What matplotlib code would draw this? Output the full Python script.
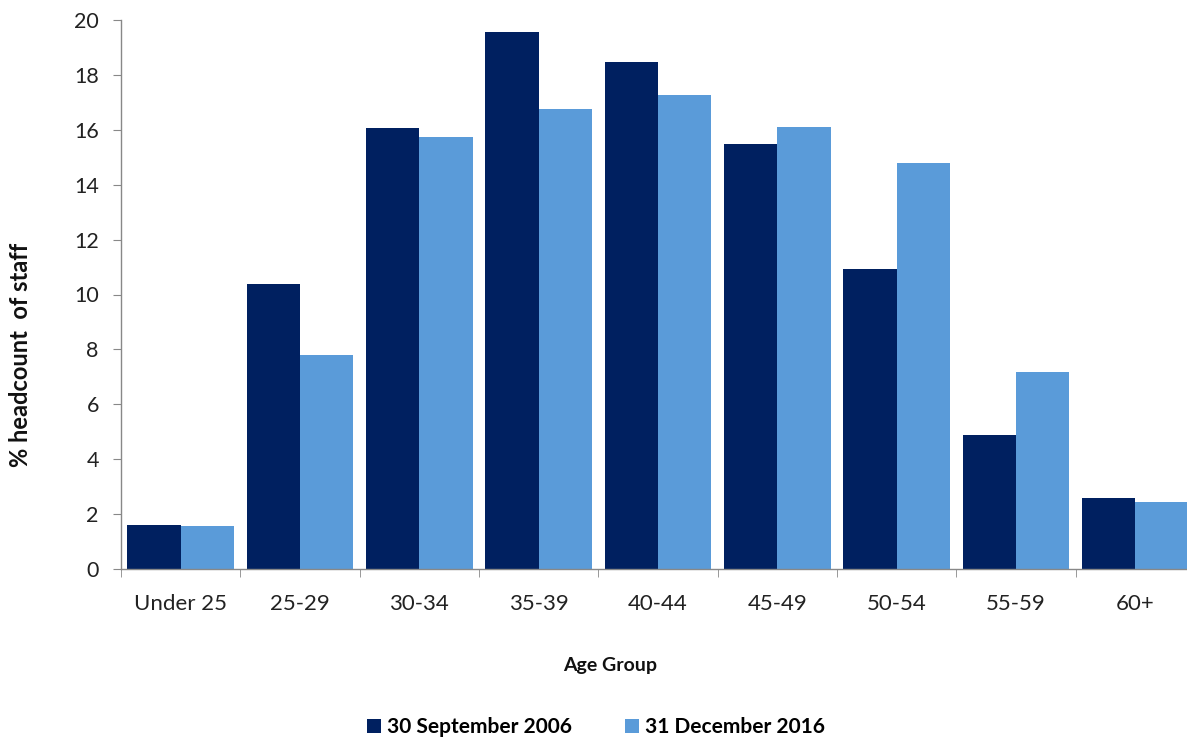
import matplotlib.pyplot as plt
import numpy as np

# Age profile of staff, % of headcount
age_groups = ["Under 25", "25-29", "30-34", "35-39", "40-44", "45-49", "50-54", "55-59", "60+"]
sep_2006 = [1.6, 10.4, 16.05, 19.58, 18.47, 15.5, 10.93, 4.88, 2.58]
dec_2016 = [1.57, 7.8, 15.75, 16.74, 17.28, 16.12, 14.8, 7.18, 2.44]
series_labels = ["30 September 2006", "31 December 2016"]

plt.rcParams['font.family'] = ['Lato', 'DejaVu Sans']

fig = plt.figure(figsize=(11.87, 7.39), dpi=100)
# plot area runs slightly past the right edge of the figure
ax = fig.add_axes([121 / 1187, 170 / 739, 1074 / 1187, 549 / 739])

x = np.arange(len(age_groups))
width = 0.447
b1 = ax.bar(x - width / 2, sep_2006, width, color='#002060', label=series_labels[0])
b2 = ax.bar(x + width / 2, dec_2016, width, color='#5A9BD9', label=series_labels[1])

ax.set_xlim(-0.5, len(age_groups) - 0.5)
ax.set_ylim(0, 20)
ax.set_yticks(np.arange(0, 21, 2))

# category labels centred, tick marks on the boundaries
ax.set_xticks(x)
ax.set_xticklabels(age_groups, fontsize=16, color='#222222')
ax.set_xticks(np.arange(-0.5, len(age_groups), 1), minor=True)
ax.tick_params(axis='x', which='major', length=0, pad=18)
ax.tick_params(axis='x', which='minor', length=6, color='#888888', direction='out')
ax.tick_params(axis='y', length=6, color='#888888', direction='out', pad=10,
               labelsize=15.5, labelcolor='#222222')

for side in ['top', 'right']:
    ax.spines[side].set_visible(False)
for side in ['left', 'bottom']:
    ax.spines[side].set_color('#888888')
    ax.spines[side].set_linewidth(1.0)

fig.text(21 / 1187, 1 - 355 / 739, "% headcount  of staff", rotation=90,
         ha='center', va='center', fontsize=17, fontweight='bold', color='#111111')
fig.text(610 / 1187, 1 - 665 / 739, "Age Group", ha='center', va='center',
         fontsize=14, fontweight='bold', color='#111111')

fig.legend(handles=[b1, b2], labels=series_labels, ncol=2, frameon=False,
           loc='center', bbox_to_anchor=(596 / 1187, 1 - 727 / 739),
           prop={'size': 15, 'weight': 'bold'}, handlelength=0.65, handleheight=0.65,
           handletextpad=0.3, columnspacing=2.55)

fig.savefig('out.png', dpi=100)
